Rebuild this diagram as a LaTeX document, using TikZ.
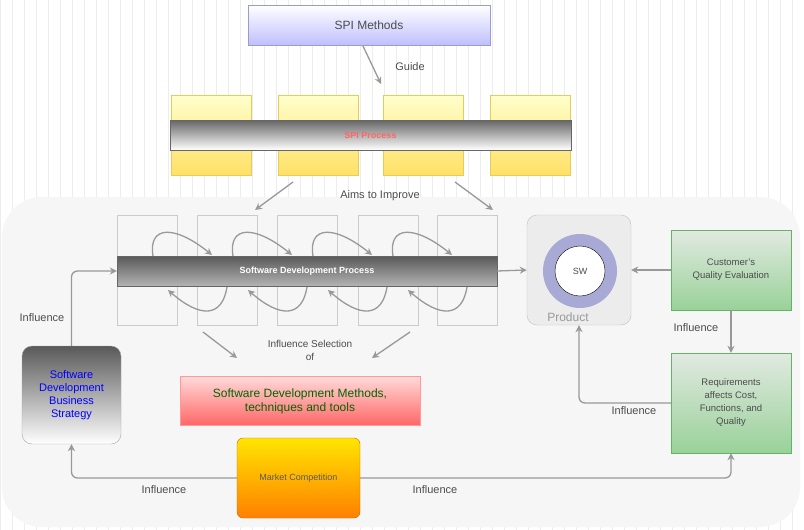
\documentclass[tikz,border=0pt]{standalone}
\usepackage{fontspec}
\setmainfont{Liberation Sans}
\usetikzlibrary{arrows.meta}
\begin{document}
\begin{tikzpicture}[x=1pt,y=-1pt,
 arr/.style={draw=gray!80,line width=1.3pt,-{Stealth[length=7pt,width=7pt]}},
 lbl/.style={text=black!70,font=\fontsize{11}{13}\selectfont},
 yel/.style={draw=yellow!50!brown!80,top color=yellow!20,bottom color=yellow!60!orange!60,minimum width=80pt,minimum height=80pt},
 phase/.style={draw=gray!40,minimum width=60pt,minimum height=110pt},
 grn/.style={draw=green!50!black!60,top color=green!15!gray!20,bottom color=green!55!black!40,minimum width=120pt,text=black!70,align=center,font=\fontsize{9.5}{13}\selectfont}]
\useasboundingbox (0,0) rectangle (804,530);
\fill[white] (0,0) rectangle (804,530);
\draw[black!7,step=12] (0,0) grid (804,530);
\fill[yellow!5!gray!8] (2,197) [rounded corners=40] rectangle (800,527);
\node[draw=blue!30!gray!60,top color=white,bottom color=blue!25,minimum width=242pt,minimum height=40pt,font=\fontsize{12}{14}\selectfont,text=black!70] (spim) at (369,25) {SPI Methods};
\coordinate (g1) at (363,46);
\coordinate (g2) at (381,84);
\draw[arr] (g1) -- (g2);
\node[lbl] (guide) at (410,67) {Guide};
\node[yel] (y1) at (211,135) {};
\node[yel] (y2) at (318,135) {};
\node[yel] (y3) at (423,135) {};
\node[yel] (y4) at (530,135) {};
\node[draw=black!60,top color=black!60,bottom color=white,minimum width=401pt,minimum height=30pt,font=\bfseries\fontsize{9}{11}\selectfont,text=red!60] (spi) at (370.5,135) {SPI Process};
\coordinate (a1) at (293,182); \coordinate (a2) at (255,210);
\coordinate (a3) at (455,182); \coordinate (a4) at (493,210);
\draw[arr] (a1) -- (a2); \draw[arr] (a3) -- (a4);
\node[lbl] (aims) at (380,196) {Aims to Improve};
\foreach \i/\x in {1/147,2/227,3/307,4/388,5/467}{\node[phase] (p\i) at (\x,270) {};}
\node[draw=black!60,top color=black!65,bottom color=black!30,minimum width=380pt,minimum height=30pt,font=\bfseries\fontsize{9}{11}\selectfont,text=white] (sdp) at (307,271) {Software Development Process};
\foreach \x in {0,80,160,240}{
 \draw[arr] (153+\x,256) .. controls (148+\x,225) and (175+\x,225) .. (212+\x,255);
 \draw[arr] (227+\x,287) .. controls (222+\x,318) and (200+\x,318) .. (168+\x,290);}
\node[draw=gray!50,fill=gray!15,rounded corners=10,minimum width=104pt,minimum height=110pt] (prod) at (579,270) {};
\node[circle,fill=blue!35!gray!50,minimum size=74pt] (ring) at (580,271) {};
\node[circle,draw=black,fill=white,minimum size=50pt,font=\fontsize{9}{11}\selectfont,text=black!70] (sw) at (580,271) {SW};
\node[text=gray!80,font=\fontsize{12}{14}\selectfont] (prodl) at (568,317) {Product};
\draw[arr] (sdp.east) -- (prod.west);
\node[grn,minimum height=80pt] (cust) at (731,270) {Customer's\\Quality Evaluation};
\node[grn,minimum height=100pt] (req) at (731,403) {Requirements\\affects Cost,\\Functions, and\\Quality};
\draw[arr] (cust.west) -- (prod.east);
\draw[arr] (cust.south) -- (req.north);
\node[lbl] (il1) at (696,328) {Influence};
\draw[arr,rounded corners=6] (req.west) -| (prod.south);
\node[lbl] (il2) at (634,411) {Influence};
\node[draw=red!40,top color=red!15,bottom color=red!60,minimum width=240pt,minimum height=49pt,align=center,text=green!40!black,font=\fontsize{12}{14}\selectfont] (meth) at (300,401) {Software Development Methods,\\techniques and tools};
\coordinate (s1) at (203,332); \coordinate (s2) at (237,358);
\coordinate (s3) at (410,332); \coordinate (s4) at (372,358);
\draw[arr] (s1) -- (s2); \draw[arr] (s3) -- (s4);
\node[lbl,align=center,font=\fontsize{10}{13}\selectfont] (isel) at (310,350) {Influence Selection\\of};
\node[draw=gray!70,rounded corners=10,top color=black!65,bottom color=white,minimum width=99pt,minimum height=98pt,align=center,text=blue,font=\fontsize{11}{13}\selectfont] (strat) at (71.5,395) {Software\\Development\\Business\\Strategy};
\draw[arr,rounded corners=6] (strat.north) |- (sdp.west);
\node[lbl] (il3) at (42,318) {Influence};
\node[draw=orange!80!black,rounded corners=6,top color=yellow!80!orange,bottom color=orange,minimum width=123pt,minimum height=80pt,text=black!65,font=\fontsize{9}{11}\selectfont] (mkt) at (298.5,478) {Market Competition};
\draw[arr,rounded corners=6] (mkt.west) -| (strat.south);
\draw[arr,rounded corners=6] (mkt.east) -| (req.south);
\node[lbl] (il4) at (164,490) {Influence};
\node[lbl] (il5) at (435,490) {Influence};
\end{tikzpicture}
\end{document}
